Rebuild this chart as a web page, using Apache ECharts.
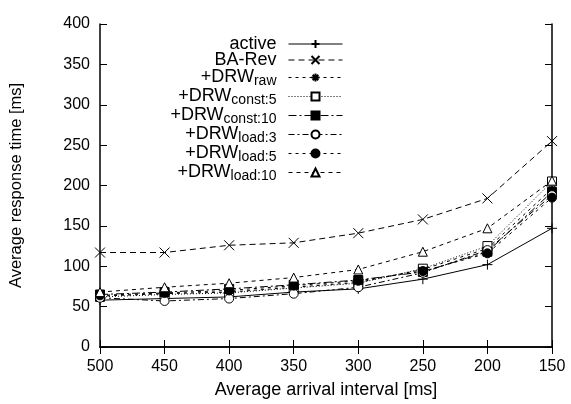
<!DOCTYPE html>
<html>
<head>
<meta charset="utf-8">
<script src="https://cdn.jsdelivr.net/npm/echarts@6/dist/echarts.min.js"></script>
<style>
  html, body { margin: 0; padding: 0; background: #fff; }
  #chart { width: 571px; height: 404px; }
</style>
</head>
<body>
<div id="chart"></div>
<script>
// x categories (average arrival interval, ms)
var intervals = ['500', '450', '400', '350', '300', '250', '200', '150'];
var yTicks = [0, 50, 100, 150, 200, 250, 300, 350, 400];

// response times
var active   = [58, 60, 62, 68, 72, 84, 102, 147];
var baRev    = [117, 117, 126, 129, 141, 158, 184, 255];
var drwRaw   = [63, 66, 68, 74, 80, 96, 122, 196];
var drwC5    = [62, 65, 67, 73, 79, 97, 125, 205];
var drwC10   = [65, 68, 72, 77, 83, 93, 118, 192];
var drwL3    = [61, 57, 60, 66, 74, 92, 120, 188];
var drwL5    = [64, 67, 70, 76, 82, 94, 116, 185];
var drwL10   = [68, 74, 79, 86, 96, 118, 147, 206];

var font = 'Liberation Sans';
var plus = 'path://M5 0V10M0 5H10';
var cross = 'path://M0 0L10 10M10 0L0 10';
var star = 'path://M5 0V10M0 5H10M1.5 1.5L8.5 8.5M8.5 1.5L1.5 8.5';

function mk(name, data, symbol, fill, dash, size) {
  return {
    name: name,
    type: 'line',
    data: data,
    xAxisIndex: 0,
    yAxisIndex: 0,
    symbol: symbol,
    symbolSize: size || 9,
    showSymbol: true,
    lineStyle: { color: '#000', width: 1, type: dash },
    itemStyle: { color: fill, borderColor: '#000', borderWidth: 1 }
  };
}

var chart = echarts.init(document.getElementById('chart'));
var option = {
  animation: false,
  backgroundColor: '#fff',
  grid: { left: 96, right: 19, top: 24, bottom: 56 },
  legend: {
    orient: 'vertical',
    right: 223,
    top: 30,
    align: 'right',
    itemWidth: 54,
    itemHeight: 10,
    itemGap: -2,
    lineStyle: { width: 1 },
    textStyle: {
      fontFamily: font,
      fontSize: 18,
      color: '#000',
      lineHeight: 12,
      padding: [0, 7, 0, 0],
      rich: {
        sub: { fontFamily: font, fontSize: 14, color: '#000', padding: [7, 0, 0, 0], lineHeight: 9.5 }
      }
    },
    formatter: function (n) {
      var m = n.match(/^(\+DRW)_(.+)$/);
      return m ? m[1] + '{sub|' + m[2] + '}' : n;
    }
  },
  xAxis: [{
    type: 'category',
    data: intervals,
    boundaryGap: false,
    name: 'Average arrival interval [ms]',
    nameLocation: 'middle',
    nameGap: 34,
    nameTextStyle: { fontFamily: font, fontSize: 18, color: '#000' },
    axisLine: { lineStyle: { color: '#000', width: 1.5 } },
    axisTick: { inside: true, length: 7, lineStyle: { color: '#000' } },
    axisLabel: { fontFamily: font, fontSize: 16, color: '#000', margin: 12 },
    splitLine: { show: false }
  }, {
    type: 'category',
    data: intervals,
    boundaryGap: false,
    position: 'top',
    axisLine: { lineStyle: { color: '#000', width: 1.5 } },
    axisTick: { inside: true, length: 7, lineStyle: { color: '#000' } },
    axisLabel: { show: false },
    splitLine: { show: false }
  }],
  yAxis: [{
    type: 'value',
    min: yTicks[0],
    max: yTicks[yTicks.length - 1],
    interval: 50,
    name: 'Average response time [ms]',
    nameLocation: 'middle',
    nameGap: 75,
    nameTextStyle: { fontFamily: font, fontSize: 16.5, color: '#000' },
    axisLine: { show: true, lineStyle: { color: '#000', width: 1.5 } },
    axisTick: { show: true, inside: true, length: 7, lineStyle: { color: '#000' } },
    axisLabel: { fontFamily: font, fontSize: 16, color: '#000', margin: 10 },
    splitLine: { show: false }
  }, {
    type: 'value',
    min: yTicks[0],
    max: yTicks[yTicks.length - 1],
    interval: 50,
    position: 'right',
    axisLine: { show: true, lineStyle: { color: '#000', width: 1.5 } },
    axisTick: { show: true, inside: true, length: 7, lineStyle: { color: '#000' } },
    axisLabel: { show: false },
    splitLine: { show: false }
  }],
  series: [
    mk('active', active, plus, '#000', 'solid', 10),
    mk('BA-Rev', baRev, cross, '#000', [6, 4], 10),
    mk('+DRW_raw', drwRaw, star, '#000', [3, 4], 10),
    mk('+DRW_const:5', drwC5, 'rect', '#fff', [1, 2]),
    mk('+DRW_const:10', drwC10, 'rect', '#000', [8, 3, 2, 3]),
    mk('+DRW_load:3', drwL3, 'circle', '#fff', [6, 3, 2, 3]),
    mk('+DRW_load:5', drwL5, 'circle', '#000', [3, 4]),
    mk('+DRW_load:10', drwL10, 'triangle', '#fff', [4, 4])
  ]
};
chart.setOption(option);
</script>
</body>
</html>
